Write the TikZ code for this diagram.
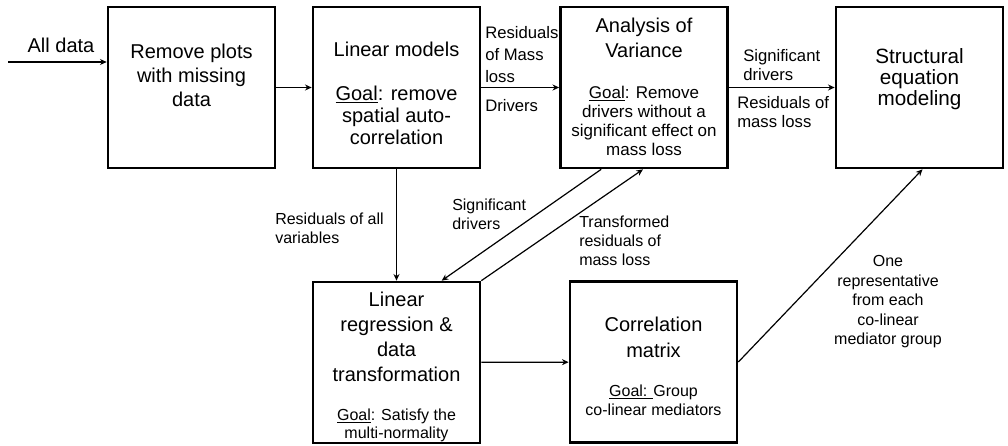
\documentclass[tikz,border=0pt]{standalone}
\usepackage{fontspec}
\setmainfont{Liberation Sans}
\usetikzlibrary{arrows.meta,calc}
\begin{document}
\begin{tikzpicture}[x=0.75pt,y=-0.75pt,
 box/.style={draw,line width=2pt,minimum width=125.25pt,minimum height=120.75pt,inner sep=0pt},
 ttl/.style={align=center,inner sep=0pt,font=\fontsize{15}{18}\selectfont},
 lbl/.style={align=left,inner sep=0pt,anchor=west,font=\fontsize{12}{14.25}\selectfont},
 arr/.style={line width=0.9pt,-{Stealth[length=5pt,width=4.5pt]}}]
\useasboundingbox (0,0) rectangle (1008,446);
% boxes
\node[box] (b1) at (191.5,87.5) {};
\node[box] (b2) at (396.5,87.5) {};
\node[box] (b3) at (644,87.5) {};
\node[box] (b4) at (919.5,87.5) {};
\node[box] (b5) at (396.5,362.5) {};
\node[box] (b6) at (653.5,362) {};
% box texts
\node[ttl,font=\fontsize{15}{18}\selectfont] (t1) at (191.5,75) {Remove plots\\with missing\\data};
\node[ttl] (t2) at (396.5,49) {Linear models};
\node[ttl,font=\fontsize{15}{16.5}\selectfont] (g2) at (396.5,115) {\underline{Goal}: remove\\spatial auto-\\correlation};
\node[ttl,font=\fontsize{15}{18.75}\selectfont] (t3) at (644,38) {Analysis of\\Variance};
\node[ttl,font=\fontsize{12.75}{14.25}\selectfont] (g3) at (644,121) {\underline{Goal}: Remove\\drivers without a\\significant effect on\\mass loss};
\node[ttl,font=\fontsize{15.5}{15.5}\selectfont] (t4) at (919.5,79) {Structural\\equation\\modeling};
\node[ttl,font=\fontsize{15}{18.75}\selectfont] (t5) at (396.5,337) {Linear\\regression \&\\data\\transformation};
\node[ttl,font=\fontsize{12}{13.5}\selectfont] (g5) at (396.5,425) {\underline{Goal}: Satisfy the\\multi-normality};
\node[ttl,font=\fontsize{15}{19.5}\selectfont] (t6) at (653.5,337) {Correlation\\matrix};
\node[ttl,font=\fontsize{12}{14.25}\selectfont] (g6) at (653.5,400) {\underline{Goal: }Group\\co-linear mediators};
% input
\coordinate (in) at (8,62);
\node[ttl,anchor=center] (lall) at (61,45) {All data};
% connectors
\draw[arr] (in) -- (in -| b1.west);
\draw[arr] (b1) -- (b2);
\draw[arr] (b2) -- (b3);
\draw[arr] (b3) -- (b4);
\draw[arr] (b2) -- (b5);
\draw[arr] ($(b3.south west)+(42,0)$) -- ($(b5.north west)+(130,0)$);
\draw[arr] (b5.north east) -- ($(b3.south)+(-1,0)$);
\draw[arr] (b5) -- (b6);
\draw[arr] (b6.east) -- ($(b4.south)+(3,0)$);
% labels
\node[lbl,font=\fontsize{12.5}{16.5}\selectfont] (l1) at (485,55) {Residuals\\of Mass\\loss};
\node[lbl,font=\fontsize{12.5}{16.5}\selectfont] (l2) at (485,106) {Drivers};
\node[lbl,font=\fontsize{12.5}{14.25}\selectfont] (l3) at (743,65.5) {Significant\\drivers};
\node[lbl,font=\fontsize{12.5}{14.25}\selectfont] (l4) at (737,112.5) {Residuals of\\mass loss};
\node[lbl] (l5) at (275,228.5) {Residuals of all\\variables};
\node[lbl] (l6) at (452,214.5) {Significant\\drivers};
\node[lbl] (l7) at (579,241) {Transformed\\residuals of\\mass loss};
\node[lbl,align=center,anchor=center,font=\fontsize{12}{14.6}\selectfont] (l8) at (888,302) {One\\representative\\from each\\co-linear\\mediator group};
\end{tikzpicture}
\end{document}
